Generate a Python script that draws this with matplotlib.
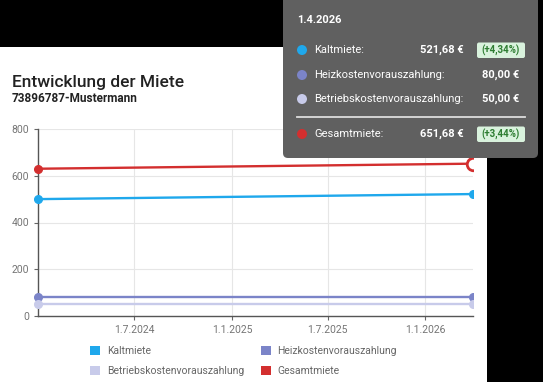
import pandas as pd
import numpy as np
import matplotlib
matplotlib.use('Agg')
import matplotlib.pyplot as plt
import matplotlib.dates as mdates
from matplotlib.patches import Rectangle, FancyBboxPatch, Circle, Patch
from matplotlib.ticker import FuncFormatter
from matplotlib.transforms import Bbox, TransformedBbox

plt.rcParams['font.family'] = ['Roboto', 'DejaVu Sans']

# data
dates = pd.to_datetime(['2024-01-01', '2026-04-01'])
kaltmiete = [500.0, 521.68]
heizkosten = [80.0, 80.0]
betriebskosten = [50.0, 50.0]
gesamtmiete = [630.0, 651.68]
series_names = ['Kaltmiete', 'Heizkostenvorauszahlung', 'Betriebskostenvorauszahlung', 'Gesamtmiete']
series_colors = ['#1fa8ec', '#7b84c8', '#c8cbea', '#d32f2f']
tick_dates = pd.to_datetime(['2024-07-01', '2025-01-01', '2025-07-01', '2026-01-01'])
y_ticks = [0, 200, 400, 600, 800]

tooltip_date = '1.4.2026'
tooltip_values = ['521,68 €', '80,00 €', '50,00 €', '651,68 €']
tooltip_badges = ['(+4,34%)', None, None, '(+3,44%)']

W, H = 543, 382
fig = plt.figure(figsize=(W / 100, H / 100), dpi=100)
fig.patch.set_facecolor('black')
inch = fig.dpi_scale_trans

def px(x, y):
    return (x / 100, (H - y) / 100)

# white card
fig.patches.append(Rectangle(px(0, H), 4.87, (H - 47) / 100, transform=inch,
                             facecolor='white', edgecolor='none', zorder=-5))

fig.text(*px(12, 82), 'Entwicklung der Miete', transform=inch, fontsize=12.5,
         fontweight='medium', color='#222222', va='center', ha='left')
fig.text(*px(12, 98), '73896787-Mustermann', transform=inch, fontsize=8.5,
         fontweight='bold', color='#222222', va='center', ha='left')

ax = fig.add_axes([38 / W, (H - 316) / H, (473 - 38) / W, (316 - 129) / H])
ax.set_facecolor('none')

all_series = [kaltmiete, heizkosten, betriebskosten, gesamtmiete]
lines = []
for vals, c in zip(all_series, series_colors):
    ln, = ax.plot(dates, vals, color=c, lw=1.7, zorder=3)
    lines.append(ln)
    m, = ax.plot(dates[:1], vals[:1], 'o', color=c, ms=5.5, zorder=4)
    lines.append(m)
    if c != series_colors[3]:
        m2, = ax.plot(dates[-1:], vals[-1:], 'o', color=c, ms=5.5, zorder=4)
        lines.append(m2)
# hovered point
hv, = ax.plot(dates[-1:], gesamtmiete[-1:], 'o', ms=9, markerfacecolor='white',
              markeredgecolor=series_colors[3], markeredgewidth=2, zorder=5)
lines.append(hv)

ax.set_xlim(dates[0], dates[-1])
ax.set_ylim(0, 800)
clip = TransformedBbox(Bbox([[-0.05, -0.05], [1.0, 1.05]]), ax.transAxes)
for ln in lines:
    ln.set_clip_box(clip)

ax.set_xticks(tick_dates)
ax.xaxis.set_major_formatter(FuncFormatter(
    lambda v, p: '{0.day}.{0.month}.{0.year}'.format(mdates.num2date(v))))
ax.set_yticks(y_ticks)
ax.grid(True, color='#e6e6e6', lw=0.8)
ax.set_axisbelow(True)
for s in ['top', 'right']:
    ax.spines[s].set_visible(False)
for s in ['left', 'bottom']:
    ax.spines[s].set_color('#555555')
    ax.spines[s].set_linewidth(1)
ax.tick_params(colors='#666666', labelcolor='#757575', labelsize=7.5, length=3, width=0.8)

# legend laid out row-wise like the original (matplotlib fills columns first)
order = [0, 2, 1, 3]
handles = [Patch(facecolor=series_colors[i], edgecolor='none') for i in order]
labels = [series_names[i] for i in order]
fig.legend(handles, labels, loc='upper left', bbox_to_anchor=px(90, 346),
           bbox_transform=inch, ncol=2, frameon=False, fontsize=7.5,
           handlelength=1.0, handleheight=1.0, handletextpad=0.6, columnspacing=1.6,
           labelspacing=0.95, borderpad=0, borderaxespad=0, labelcolor='#666666')

# tooltip
fig.patches.append(FancyBboxPatch(px(283, 158), 2.55, 1.7, transform=inch,
                                  boxstyle='round,pad=0,rounding_size=0.05',
                                  facecolor='#606060', edgecolor='none', zorder=10))
fig.text(*px(297, 20), tooltip_date, transform=inch, fontsize=8, fontweight='bold',
         color='white', va='center', ha='left', zorder=12)
row_y = [50, 75, 99, 134]
value_x = [464, 519, 519, 464]
for name, c, y, val, vx, badge in zip(series_names, series_colors, row_y,
                                      tooltip_values, value_x, tooltip_badges):
    fig.patches.append(Circle(px(302, y), 0.05, transform=inch, facecolor=c,
                              edgecolor='none', zorder=11))
    fig.text(*px(314, y), name + ':', transform=inch, fontsize=8, color='white',
             va='center', ha='left', zorder=12)
    fig.text(*px(vx, y), val, transform=inch, fontsize=8, fontweight='bold',
             color='white', va='center', ha='right', zorder=12)
    if badge:
        fig.patches.append(FancyBboxPatch(px(477, y + 8), 0.48, 0.155, transform=inch,
                                          boxstyle='round,pad=0,rounding_size=0.02',
                                          facecolor='#d9f2dd', edgecolor='none', zorder=11))
        fig.text(*px(501, y), badge, transform=inch, fontsize=7, fontweight='bold',
                 color='#2e7d32', va='center', ha='center', zorder=12)
fig.lines.append(plt.Line2D([2.97, 5.25], [(H - 116.5) / 100] * 2, transform=inch,
                            color='#dddddd', lw=1.3, zorder=11))

fig.savefig('out.png', dpi=100, facecolor=fig.get_facecolor())
